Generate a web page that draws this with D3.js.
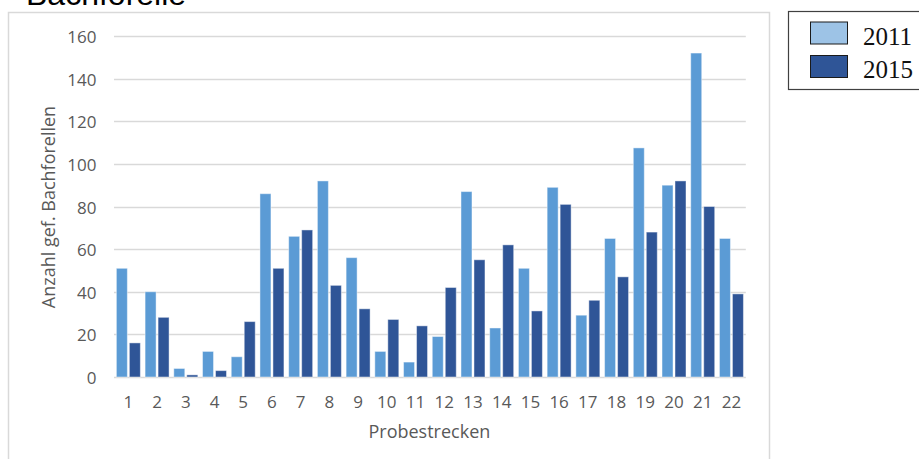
<!DOCTYPE html>
<html>
<head>
<meta charset="utf-8">
<script src="https://cdn.jsdelivr.net/npm/d3@7"></script>
<style>
  html, body { margin: 0; padding: 0; background: #fff; }
  svg { display: block; }
</style>
</head>
<body>
<svg id="chart" width="919" height="459"></svg>
<script>
const categories = ["1","2","3","4","5","6","7","8","9","10","11","12","13","14","15","16","17","18","19","20","21","22"];
const seriesNames = ["2011", "2015"];
const values2011 = [51, 40, 4, 12, 9.5, 86, 66, 92, 56, 12, 7, 19, 87, 23, 51, 89, 29, 65, 107.5, 90, 152, 65];
const values2015 = [16, 28, 1, 3, 26, 51, 69, 43, 32, 27, 24, 42, 55, 62, 31, 81, 36, 47, 68, 92, 80, 39];
const yTicks = [0, 20, 40, 60, 80, 100, 120, 140, 160];
const title = "Bachforelle";
const yTitle = "Anzahl gef. Bachforellen";
const xTitle = "Probestrecken";

const barColors = ["#5B9BD5", "#2F5597"];
const legendColors = ["#9DC3E6", "#2F5597"];

const svg = d3.select("#chart");

// outer chart frame
svg.append("rect")
  .attr("x", 8.5).attr("y", 12.5)
  .attr("width", 761).attr("height", 470)
  .attr("fill", "none").attr("stroke", "#D9D9D9").attr("stroke-width", 1.5);

// title (cut off at top)
svg.append("text")
  .attr("x", 26).attr("y", 5)
  .attr("font-family", "Liberation Sans, Arial, sans-serif")
  .attr("font-size", 32)
  .attr("fill", "#000")
  .text(title);

const plot = { left: 114, right: 745.8, top: 36, bottom: 377 };

const y = d3.scaleLinear().domain([0, 160]).range([plot.bottom, plot.top]);
const x0 = d3.scaleBand().domain(categories).range([plot.left, plot.right])
  .paddingInner(0.165).paddingOuter(0.0825);
const x1 = d3.scaleBand().domain(seriesNames).range([0, x0.bandwidth()]).paddingInner(0.154);

// gridlines
svg.append("g").selectAll("line").data(yTicks).join("line")
  .attr("x1", plot.left).attr("x2", plot.right)
  .attr("y1", d => Math.round(y(d)) + 0.5).attr("y2", d => Math.round(y(d)) + 0.5)
  .attr("stroke", "#D9D9D9").attr("stroke-width", 1.3);

// y tick labels
svg.append("g").selectAll("text").data(yTicks).join("text")
  .attr("x", 96.5).attr("y", d => y(d) + 7)
  .attr("text-anchor", "end")
  .attr("font-family", "Open Sans, sans-serif")
  .attr("font-size", 17)
  .attr("fill", "#595959")
  .text(d => d);

// bars
const data = categories.map((c, i) => ({ c, vals: [values2011[i], values2015[i]] }));
const groups = svg.append("g").selectAll("g").data(data).join("g")
  .attr("transform", d => `translate(${x0(d.c)},0)`);
groups.selectAll("rect").data(d => d.vals.map((v, j) => ({ s: seriesNames[j], v, j })))
  .join("rect")
  .attr("x", d => x1(d.s))
  .attr("width", x1.bandwidth())
  .attr("y", d => y(d.v))
  .attr("height", d => y(0) - y(d.v))
  .attr("fill", d => barColors[d.j])
  .attr("stroke", "rgba(255,255,255,0.45)")
  .attr("stroke-width", 1);

// x tick labels
svg.append("g").selectAll("text").data(categories).join("text")
  .attr("x", d => x0(d) + x0.bandwidth() / 2)
  .attr("y", 408)
  .attr("text-anchor", "middle")
  .attr("font-family", "Open Sans, sans-serif")
  .attr("font-size", 17)
  .attr("fill", "#595959")
  .text(d => d);

// axis titles
svg.append("text")
  .attr("x", (plot.left + plot.right) / 2 - 0.5).attr("y", 438)
  .attr("text-anchor", "middle")
  .attr("font-family", "Open Sans, sans-serif")
  .attr("font-size", 18)
  .attr("fill", "#595959")
  .text(xTitle);

svg.append("text")
  .attr("transform", "translate(55,207) rotate(-90)")
  .attr("text-anchor", "middle")
  .attr("font-family", "Open Sans, sans-serif")
  .attr("font-size", 18)
  .attr("fill", "#595959")
  .text(yTitle);

// legend
const lg = svg.append("g");
lg.append("rect")
  .attr("x", 788.5).attr("y", 11.5)
  .attr("width", 140).attr("height", 78)
  .attr("fill", "#fff").attr("stroke", "#404040").attr("stroke-width", 1.2);
const li = lg.selectAll("g.item").data(seriesNames).join("g").attr("class", "item")
  .attr("transform", (d, i) => `translate(0,${i * 33.5})`);
li.append("rect")
  .attr("x", 810.5).attr("y", 22)
  .attr("width", 37).attr("height", 22)
  .attr("fill", (d, i) => legendColors[i])
  .attr("stroke", "#1a1a1a").attr("stroke-width", 1);
li.append("text")
  .attr("x", 863).attr("y", 44.5)
  .attr("font-family", "Liberation Serif, Times New Roman, serif")
  .attr("font-size", 25)
  .attr("fill", "#111")
  .text(d => d);
</script>
</body>
</html>
